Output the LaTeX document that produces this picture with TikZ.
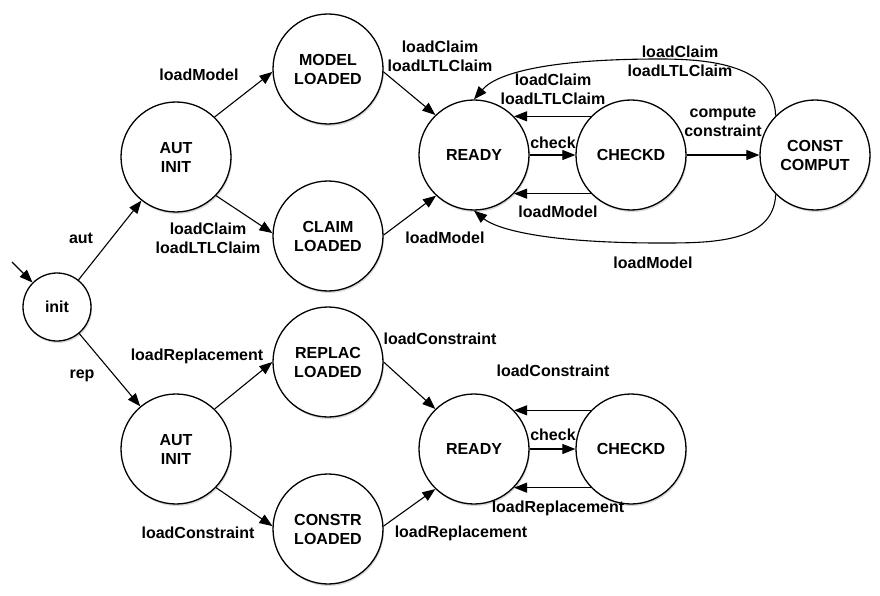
\documentclass[tikz,border=0pt]{standalone}
\usepackage{fontspec}
\setmainfont{Liberation Sans}
\usetikzlibrary{arrows.meta,shadows}
\tikzset{
  state/.style={circle, draw, line width=1.3pt, fill=white, minimum size=110pt,
    inner sep=0pt, align=center, font=\bfseries\fontsize{16}{19}\selectfont,
    drop shadow={shadow xshift=1pt, shadow yshift=-2pt, opacity=0.3}},
  lbl/.style={align=center, inner sep=0pt, font=\bfseries\fontsize{16}{19}\selectfont},
  arr/.style={-{Triangle[length=13pt,width=10pt]}, line width=1.1pt}
}
\begin{document}
\begin{tikzpicture}[x=1pt,y=-1pt]
\useasboundingbox (0,0) rectangle (880,596);
% states
\node[state, minimum size=68pt] (init) at (57,307) {init};
\node[state] (autA) at (176,157) {AUT\\INIT};
\node[state] (model) at (328,69) {MODEL\\LOADED};
\node[state] (claim) at (328,236) {CLAIM\\LOADED};
\node[state] (readyA) at (474,155) {READY};
\node[state] (checkA) at (631,155) {CHECKD};
\node[state] (const) at (815,155) {CONST\\COMPUT};
\node[state] (autB) at (176,449) {AUT\\INIT};
\node[state] (replac) at (328,362) {REPLAC\\LOADED};
\node[state] (constr) at (328,529) {CONSTR\\LOADED};
\node[state] (readyB) at (474,449) {READY};
\node[state] (checkB) at (631,449) {CHECKD};
\coordinate (start) at (12,262);
\coordinate (topmid) at (660,59);
\coordinate (botmid) at (660,243);
% transitions
\draw[arr] (start) -- (init.135);
\draw[arr] (init) -- (autA);
\draw[arr] (init) -- (autB);
\draw[arr] (autA.46) -- (model.183);
\draw[arr] (autA.316) -- (claim.177);
\draw[arr] (model.357) -- (readyA.134);
\draw[arr] (claim.1) -- (readyA.227);
\draw[arr] (readyA) -- (checkA);
\draw[arr] (checkA.136) -- (readyA.44);
\draw[arr] (checkA.224) -- (readyA.316);
\draw[arr] (checkA) -- (const);
\draw[arr] (const.135) to[out=92,in=0] (topmid) .. controls (540,59) and (495,75) .. (readyA.north);
\draw[arr] (const.225) to[out=-92,in=0] (botmid) .. controls (540,243) and (495,228) .. (readyA.south);
\draw[arr] (autB.46) -- (replac.180);
\draw[arr] (autB.316) -- (constr.177);
\draw[arr] (replac.0) -- (readyB.134);
\draw[arr] (constr.3) -- (readyB.226);
\draw[arr] (readyB) -- (checkB);
\draw[arr] (checkB.136) -- (readyB.44);
\draw[arr] (checkB.224) -- (readyB.316);
% labels
\node[lbl] (l-aut) at (81,238) {aut};
\node[lbl] (l-rep) at (82,376) {rep};
\node[lbl] (l-am) at (199,75) {loadModel};
\node[lbl] (l-ac) at (208,238) {loadClaim\\loadLTLClaim};
\node[lbl] (l-mr) at (440,56) {loadClaim\\loadLTLClaim};
\node[lbl] (l-cr) at (445,238) {loadModel};
\node[lbl] (l-chkA) at (553,143) {check};
\node[lbl] (l-crA) at (553,89) {loadClaim\\loadLTLClaim};
\node[lbl] (l-cmA) at (558,212) {loadModel};
\node[lbl] (l-comp) at (723,122) {compute\\constraint};
\node[lbl] (l-top) at (680,61) {loadClaim\\loadLTLClaim};
\node[lbl] (l-bot) at (653,263) {loadModel};
\node[lbl] (l-br) at (197,356) {loadReplacement};
\node[lbl] (l-bc) at (198,533) {loadConstraint};
\node[lbl] (l-rr) at (440,339) {loadConstraint};
\node[lbl] (l-cnr) at (461,533) {loadReplacement};
\node[lbl] (l-chkB) at (553,435) {check};
\node[lbl] (l-crB) at (553,371) {loadConstraint};
\node[lbl] (l-cmB) at (558,508) {loadReplacement};
\end{tikzpicture}
\end{document}
